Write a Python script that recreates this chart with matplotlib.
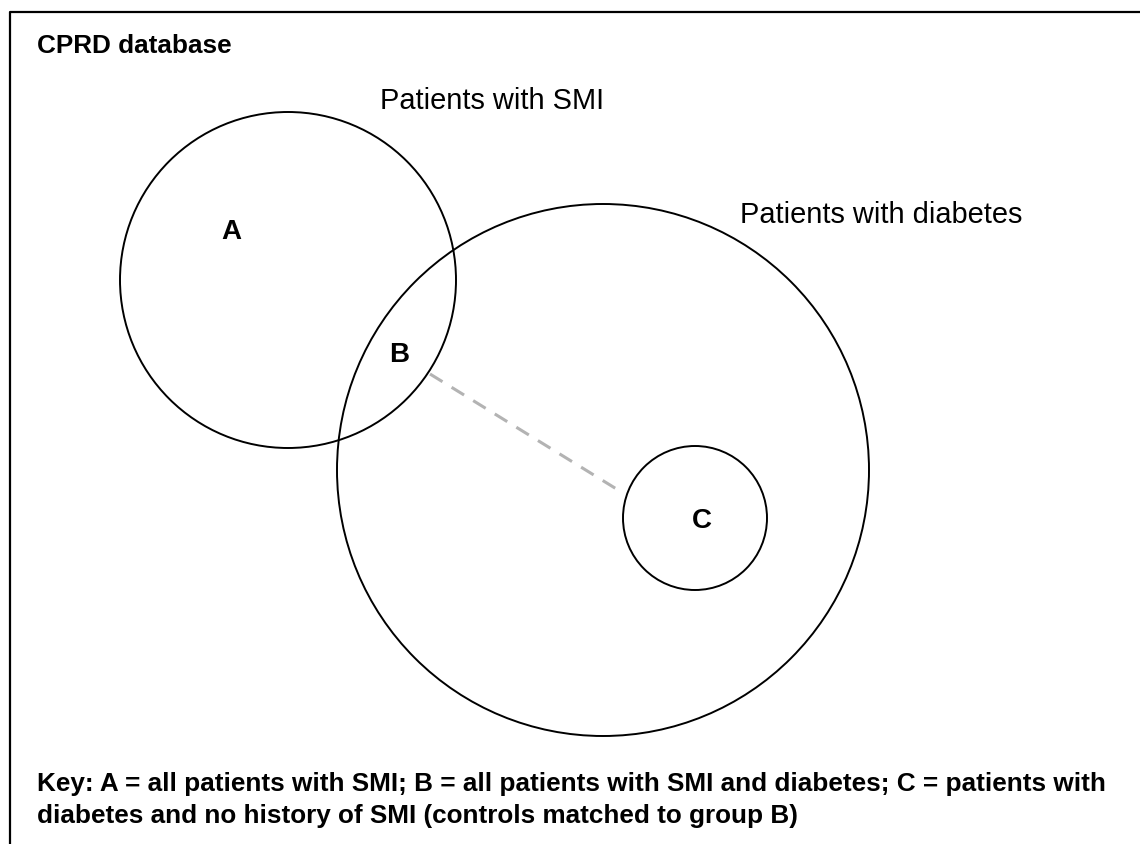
import matplotlib.pyplot as plt
from matplotlib.patches import Circle

plt.rcParams['font.family'] = ['Liberation Sans', 'DejaVu Sans']

# circles (x, y, radius) in picture units, y measured downwards
circle_names = ['A', 'diabetes', 'C']
circle_x = [288, 603, 695]
circle_y = [280, 470, 518]
circle_r = [168, 266, 72]

# group letters
group_labels = ['A', 'B', 'C']
group_x = [231, 399, 702]
group_y = [232, 355, 521]

# dashed link from B to C
link_x = [430, 623]
link_y = [374, 493]

set_labels = ['Patients with SMI', 'Patients with diabetes']
set_label_x = [380, 740]
set_label_y = [109, 223]

title = 'CPRD database'
key_lines = ['Key: A = all patients with SMI; B = all patients with SMI and diabetes; C = patients with',
             'diabetes and no history of SMI (controls matched to group B)']

fig = plt.figure(figsize=(11.4, 8.44), dpi=100)
ax = fig.add_axes([0, 0, 1, 1])
ax.set_xlim(0, 1140)
ax.set_ylim(844, 0)
ax.set_aspect('equal')
ax.axis('off')

# frame (runs off the right and bottom of the picture)
ax.plot([10, 10, 1145], [850, 12, 12], color='black', lw=1.6, solid_capstyle='butt')

for x, y, r in zip(circle_x, circle_y, circle_r):
    ax.add_patch(Circle((x, y), r, fill=False, edgecolor='black', lw=1.4))

ax.plot(link_x, link_y, color='#b3b3b3', lw=2.2, dashes=(4.8, 3.5))

for lab, x, y in zip(group_labels, group_x, group_y):
    ax.text(x, y, lab, fontsize=20, fontweight='bold', ha='center', va='center')

for lab, x, y in zip(set_labels, set_label_x, set_label_y):
    ax.text(x, y, lab, fontsize=20.9, ha='left', va='baseline')

ax.text(37, 53, title, fontsize=18.8, fontweight='bold', ha='left', va='baseline')
ax.text(37, 791, key_lines[0], fontsize=18.8, fontweight='bold', ha='left', va='baseline')
ax.text(37, 823, key_lines[1], fontsize=18.8, fontweight='bold', ha='left', va='baseline')

fig.savefig('out.png', dpi=100)
